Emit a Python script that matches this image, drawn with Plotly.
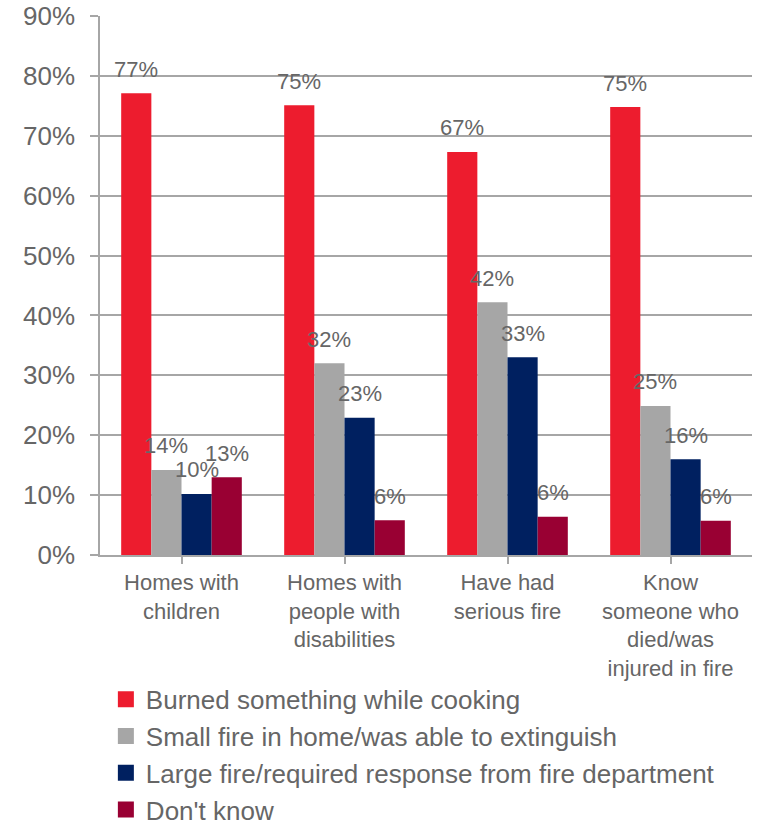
import plotly.graph_objects as go

categories = [
    "Homes with<br>children",
    "Homes with<br>people with<br>disabilities",
    "Have had<br>serious fire",
    "Know<br>someone who<br>died/was<br>injured in fire",
]
series_names = [
    "Burned something while cooking",
    "Small fire in home/was able to extinguish",
    "Large fire/required response from fire department",
    "Don't know",
]
burned = [77.1, 75.1, 67.3, 74.8]
small_fire = [14.2, 32.0, 42.2, 24.9]
large_fire = [10.2, 22.9, 33.0, 16.0]
dont_know = [13.0, 5.8, 6.4, 5.7]
series_values = [burned, small_fire, large_fire, dont_know]
colors = ["#ED1C2E", "#A6A6A6", "#002060", "#990033"]
y_ticks = [0, 10, 20, 30, 40, 50, 60, 70, 80, 90]

TEXT = "#666666"
FONT = "Liberation Sans, Arial, sans-serif"
bargap = 0.26

fig = go.Figure()
for i, (name, vals, col) in enumerate(zip(series_names, series_values, colors)):
    fig.add_trace(go.Bar(
        x=list(range(len(categories))), y=vals, name=name,
        marker=dict(color=col, line=dict(width=0)),
        legendgroup=f"g{i}", showlegend=False,
    ))
# legend entries (larger square swatches)
for i, (name, col) in enumerate(zip(series_names, colors)):
    fig.add_trace(go.Scatter(
        x=[None], y=[None], mode="markers", name=name,
        marker=dict(symbol="square", size=16, color=col, line=dict(width=0)),
        legendgroup=f"g{i}", showlegend=True, hoverinfo="skip",
    ))

# data labels
n = len(series_values)
bw = (1 - bargap) / n
annotations = []
for j, vals in enumerate(series_values):
    for i, v in enumerate(vals):
        annotations.append(dict(
            x=i + (j - (n - 1) / 2) * bw, y=v, xref="x", yref="y",
            text=f"{round(v)}%", showarrow=False, yanchor="middle", yshift=24,
            font=dict(size=22, color=TEXT, family=FONT),
        ))

fig.update_layout(
    width=757, height=826,
    margin=dict(l=100, r=5, t=16, b=271, autoexpand=False),
    paper_bgcolor="white", plot_bgcolor="white",
    barmode="group", bargap=bargap, bargroupgap=0,
    font=dict(family=FONT, color=TEXT),
    showlegend=True,
    legend=dict(
        orientation="v", x=0.009, y=-0.224, xanchor="left", yanchor="top",
        font=dict(size=26, color=TEXT, family=FONT),
        traceorder="grouped", tracegroupgap=0,
        bgcolor="rgba(0,0,0,0)",
    ),
    annotations=annotations,
)
fig.update_xaxes(
    tickmode="array", tickvals=list(range(len(categories))), ticktext=categories,
    range=[-0.5, len(categories) - 0.5],
    showline=True, linecolor="#A6A6A6", linewidth=1.5,
    ticks="outside", ticklen=7, tickcolor="#A6A6A6", tickwidth=1.5,
    showgrid=False, zeroline=False,
    tickfont=dict(size=22, color=TEXT, family=FONT),
    fixedrange=True,
)
fig.update_yaxes(
    range=[0, 90], tickvals=y_ticks, ticktext=[f"{t}%" for t in y_ticks],
    showline=True, linecolor="#A6A6A6", linewidth=1.5,
    ticks="outside", ticklen=8, tickcolor="#A6A6A6", tickwidth=1.5,
    showgrid=True, gridcolor="#A6A6A6", gridwidth=1.5,
    zeroline=False, ticklabelstandoff=10,
    tickfont=dict(size=26, color=TEXT, family=FONT),
    fixedrange=True,
)
fig.write_html(
    "out.html",
    config=dict(displayModeBar=False),
    post_script="document.body.style.margin='0';document.body.style.overflow='hidden';",
)
